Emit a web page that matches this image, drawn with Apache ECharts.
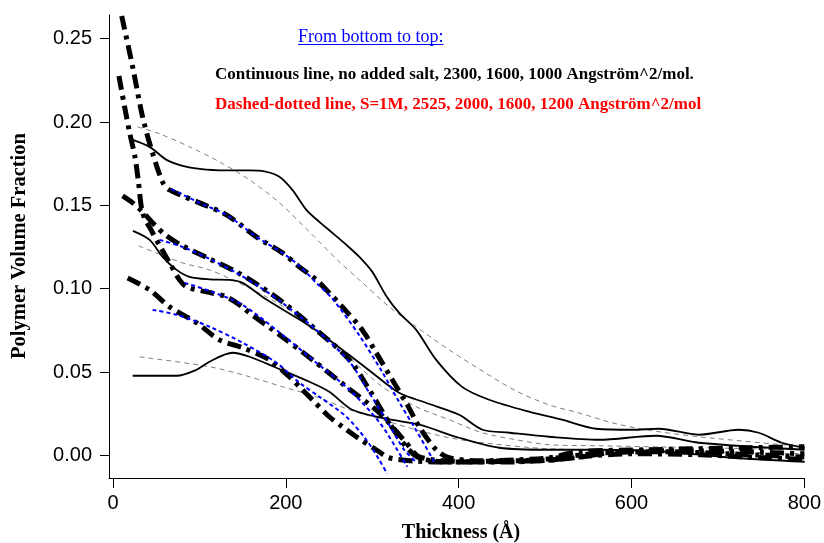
<!DOCTYPE html>
<html><head><meta charset="utf-8">
<script src="https://cdn.jsdelivr.net/npm/echarts@6/dist/echarts.min.js"></script>
<style>html,body{margin:0;padding:0;background:#fff}#c{width:824px;height:543px}</style>
</head><body><div id="c"></div>
<script>
// ---- tick values ----
const xTicks = [0, 200, 400, 600, 800];
const yTicks = [0, 0.05, 0.10, 0.15, 0.20, 0.25];

// ---- continuous lines (no added salt) ----
const solidTopX = [22.8, 42.4, 62.0, 80.5, 100.2, 129.1, 158.0, 175.3, 192.6, 207.6, 223.8, 238.8, 253.9, 270.1, 285.1, 300.1, 316.2, 331.2, 350.9, 374.0, 404.0, 435.2, 481.4, 519.6, 558.9, 600.5, 631.7, 677.9, 724.1, 747.2, 773.8, 800.4];
const solidTopY = [0.1893, 0.1851, 0.1773, 0.1737, 0.1719, 0.1710, 0.1710, 0.1704, 0.1672, 0.1593, 0.1473, 0.1401, 0.1335, 0.1263, 0.1191, 0.1101, 0.0957, 0.0855, 0.0753, 0.0573, 0.0411, 0.0334, 0.0262, 0.0214, 0.0160, 0.0154, 0.0160, 0.0124, 0.0154, 0.0136, 0.0076, 0.0046];
const solidMidX = [23.1, 42.4, 57.4, 73.6, 88.6, 111.7, 134.8, 149.9, 177.6, 215.7, 238.8, 270, 300, 331, 362, 400.5, 427.6, 458.8, 504.6, 562.4, 628.3, 678, 800.4];
const solidMidY = [0.1347, 0.1293, 0.1191, 0.1113, 0.1071, 0.1056, 0.1053, 0.1035, 0.0935, 0.0815, 0.0736, 0.0616, 0.0496, 0.0376, 0.0316, 0.0244, 0.0154, 0.0136, 0.0112, 0.0094, 0.0118, 0.0076, 0.0034];
const solidBotX = [22.8, 73.6, 96.7, 111.7, 138.3, 158, 189, 227.3, 250.3, 276.9, 316.2, 354.4, 400.5, 446.7, 504.6, 562.4, 639.7, 716, 800.4];
const solidBotY = [0.0478, 0.0478, 0.0514, 0.0562, 0.0616, 0.0592, 0.0526, 0.0442, 0.0382, 0.0274, 0.0220, 0.0184, 0.0106, 0.0046, 0.0034, 0.0034, 0.0022, -0.0014, -0.0038];

// ---- thin grey dashed lines ----
const greyTopX = [28.5, 54.0, 88.6, 123.3, 158.0, 192.7, 227.3, 262.0, 285.1, 319.8, 351.0, 389.0, 427.2, 466.4, 504.6, 539.2, 577.4, 616.7, 677.9, 800.4];
const greyTopY = [0.1971, 0.1929, 0.1851, 0.1761, 0.1653, 0.1515, 0.1341, 0.1161, 0.1053, 0.0891, 0.0771, 0.0633, 0.0507, 0.0387, 0.0303, 0.0255, 0.0196, 0.0154, 0.0112, 0.0052];
const greyMidX = [29.7, 80.5, 111.7, 138.3, 177.6, 215.7, 273.5, 311.6, 350.9, 389, 427.2, 466.4, 504.6, 562.4, 800.4];
const greyMidY = [0.1257, 0.1155, 0.1113, 0.1053, 0.0951, 0.0831, 0.0585, 0.0412, 0.0292, 0.0214, 0.0136, 0.0094, 0.0064, 0.0058, 0.0034];
const greyBotX = [30.8, 111.7, 158, 196, 235.3, 273.5, 311.6, 350.9, 389, 427.2, 504.6, 677.9, 800.4];
const greyBotY = [0.0591, 0.0532, 0.0472, 0.0412, 0.0352, 0.0274, 0.0214, 0.0154, 0.0106, 0.0076, 0.0040, 0.0022, 0.0010];

// ---- dashed-dotted lines (S=1M) ----
const ddAX = [10.1, 22.8, 34.3, 44.7, 57.4, 65.5, 100.2, 131.4, 166.0, 196.1, 215.7, 235.3, 250.3, 265.4, 288.5, 304.6, 323.1, 339.3, 354.4, 374.0, 389, 424, 470, 505, 539, 620, 736, 800];
const ddAY = [0.2636, 0.2330, 0.2030, 0.1833, 0.1640, 0.1593, 0.1515, 0.1443, 0.1311, 0.1215, 0.1131, 0.1053, 0.0975, 0.0891, 0.0753, 0.0616, 0.0454, 0.0316, 0.0172, 0.0034, -0.0014, -0.0032, -0.0026, -0.0014, 0.0022, 0.0034, 0.0046, 0.0052];
const ddBX = [6.9, 13.5, 19.3, 25.5, 29.5, 34.3, 44.9, 55.0, 65.5, 77.0, 85.2, 108.3, 131.4, 149.9, 158.0, 196.1, 230.7, 270.0, 308.1, 339.3, 354.4, 400, 450, 500, 540, 580, 660, 740, 800];
const ddBY = [0.2276, 0.2090, 0.1935, 0.1790, 0.1640, 0.1455, 0.1345, 0.1250, 0.1155, 0.1053, 0.1011, 0.0981, 0.0951, 0.0891, 0.0855, 0.0711, 0.0574, 0.0412, 0.0256, 0.0076, -0.0008, -0.0036, -0.0040, -0.0030, -0.0010, 0.0020, 0.0028, 0.0020, 0.0010];
const ddCX = [11.2, 22.8, 34.3, 48.2, 62.0, 80.5, 111.7, 142.9, 169.5, 196.1, 235.3, 273.5, 296.6, 319.6, 339.3, 354.4, 390, 440, 490, 530, 570, 640, 720, 800];
const ddCY = [0.1557, 0.1515, 0.1461, 0.1383, 0.1317, 0.1257, 0.1179, 0.1101, 0.1017, 0.0921, 0.0753, 0.0574, 0.0394, 0.0196, 0.0052, -0.0014, -0.0040, -0.0034, -0.0028, -0.0004, 0.0016, 0.0022, 0.0008, -0.0010];
const ddDX = [17.0, 42.4, 65.5, 96.7, 123.3, 149.9, 181.0, 204.1, 219.2, 230.7, 250.3, 265.4, 281.6, 304.6, 319.6, 350, 400, 450, 500, 545, 600, 680, 760, 800];
const ddDY = [0.1065, 0.0993, 0.0891, 0.0796, 0.0693, 0.0646, 0.0574, 0.0472, 0.0394, 0.0334, 0.0232, 0.0172, 0.0112, 0.0034, -0.0014, -0.0034, -0.0040, -0.0036, -0.0030, -0.0006, 0.0010, 0.0004, -0.0016, -0.0024];

// ---- blue dotted fits ----
const fitAX = [67.8, 100.2, 131.4, 166.0, 196.1, 215.7, 235.3, 253.9, 285.1, 311.6, 331.2, 350.9, 371.7];
const fitAY = [0.1598, 0.1515, 0.1443, 0.1311, 0.1215, 0.1137, 0.1035, 0.0940, 0.0720, 0.0500, 0.0320, 0.0150, -0.0038];
const fitBX = [82.8, 111.7, 149.9, 196.1, 235.3, 273.5, 308.1, 328.9, 340.5];
const fitBY = [0.1035, 0.0987, 0.0903, 0.0723, 0.0556, 0.0394, 0.0200, 0.0034, -0.0068];
const fitCX = [54.0, 80.5, 111.7, 142.9, 169.5, 196.1, 235.3, 273.5, 296.6, 319.6, 336.9, 352.0];
const fitCY = [0.1293, 0.1251, 0.1179, 0.1095, 0.1011, 0.0915, 0.0753, 0.0562, 0.0376, 0.0184, 0.0034, -0.0044];
const fitDX = [45.9, 73.6, 111.7, 149.9, 189.1, 215.7, 238.8, 270.0, 293.1, 308.1, 317.3];
const fitDY = [0.0873, 0.0844, 0.0772, 0.0676, 0.0556, 0.0436, 0.0352, 0.0232, 0.0094, -0.0026, -0.0110];

// ---- texts ----
const xTitle = 'Thickness (Å)';
const yTitle = 'Polymer Volume Fraction';
const note0 = 'From bottom to top:';
const note1 = 'Continuous line, no added salt, 2300, 1600, 1000 Angström^2/mol.';
const note2 = 'Dashed-dotted line, S=1M, 2525, 2000, 1600, 1200 Angström^2/mol';

const zip = (xs, ys) => xs.map((x, i) => [x, ys[i]]);
function line(name, xs, ys, ls, z) {
  return { name, type: 'line', data: zip(xs, ys), showSymbol: false, smooth: 0.3,
    lineStyle: ls, z: z, silent: true, clip: true };
}
const grey = { color: '#808080', width: 1, type: [5, 4] };
const solid = { color: '#000', width: 1.8, type: 'solid' };
const dd = { color: '#000', width: 5, type: [14, 6, 4, 6], cap: 'butt' };
const blue = { color: '#0000ff', width: 2, type: [4, 3] };

const series = [
  line('greyTop', greyTopX, greyTopY, grey, 1),
  line('greyMid', greyMidX, greyMidY, grey, 1),
  line('greyBot', greyBotX, greyBotY, grey, 1),
  line('solidTop', solidTopX, solidTopY, solid, 2),
  line('solidMid', solidMidX, solidMidY, solid, 2),
  line('solidBot', solidBotX, solidBotY, solid, 2),
  line('ddA', ddAX, ddAY, dd, 3),
  line('ddB', ddBX, ddBY, dd, 3),
  line('ddC', ddCX, ddCY, dd, 3),
  line('ddD', ddDX, ddDY, dd, 3),
  line('fitA', fitAX, fitAY, blue, 4),
  line('fitB', fitBX, fitBY, blue, 4),
  line('fitC', fitCX, fitCY, blue, 4),
  line('fitD', fitDX, fitDY, blue, 4)
];

const blueFont = '18px "Liberation Serif"';
const mc = document.createElement('canvas').getContext('2d');
mc.font = blueFont;
const w0 = mc.measureText(note0).width;

const chart = echarts.init(document.getElementById('c'), null, { renderer: 'canvas' });
chart.setOption({
  animation: false,
  backgroundColor: '#fff',
  grid: { left: 109, right: 18, top: 15, bottom: 65, containLabel: false },
  xAxis: {
    type: 'value', min: -4.6, max: 800,
    splitLine: { show: false },
    axisLine: { show: true, onZero: false, lineStyle: { color: '#000', width: 1 } },
    axisTick: { show: true, length: 10, inside: false, customValues: xTicks, lineStyle: { color: '#000' } },
    axisLabel: { customValues: xTicks, margin: 15, color: '#000', fontSize: 20, fontFamily: 'Liberation Sans' }
  },
  yAxis: {
    type: 'value', min: -0.01355, max: 0.2642,
    splitLine: { show: false },
    axisLine: { show: true, onZero: false, lineStyle: { color: '#000', width: 1 } },
    axisTick: { show: true, length: 9, customValues: yTicks, lineStyle: { color: '#000' } },
    axisLabel: { customValues: yTicks, margin: 17, color: '#000', fontSize: 20, fontFamily: 'Liberation Sans',
      formatter: v => v.toFixed(2) }
  },
  series,
  graphic: [
    { type: 'text', x: 461, y: 533, style: { text: xTitle, font: 'bold 20px "Liberation Serif"', fill: '#000', align: 'center', verticalAlign: 'middle' } },
    { type: 'text', x: 20, y: 246, rotation: Math.PI / 2, style: { text: yTitle, font: 'bold 20.5px "Liberation Serif"', fill: '#000', align: 'center', verticalAlign: 'middle' } },
    { type: 'text', x: 298, y: 37, style: { text: note0, font: blueFont, fill: '#0000ff', align: 'left', verticalAlign: 'middle' } },
    { type: 'line', shape: { x1: 298, y1: 44.5, x2: 298 + w0, y2: 44.5 }, style: { stroke: '#0000ff', lineWidth: 1 } },
    { type: 'text', x: 215, y: 75, style: { text: note1, font: 'bold 17px "Liberation Serif"', fill: '#000', align: 'left', verticalAlign: 'middle' } },
    { type: 'text', x: 215, y: 105, style: { text: note2, font: 'bold 17px "Liberation Serif"', fill: '#ff0000', align: 'left', verticalAlign: 'middle' } }
  ]
});
</script>
</body></html>
